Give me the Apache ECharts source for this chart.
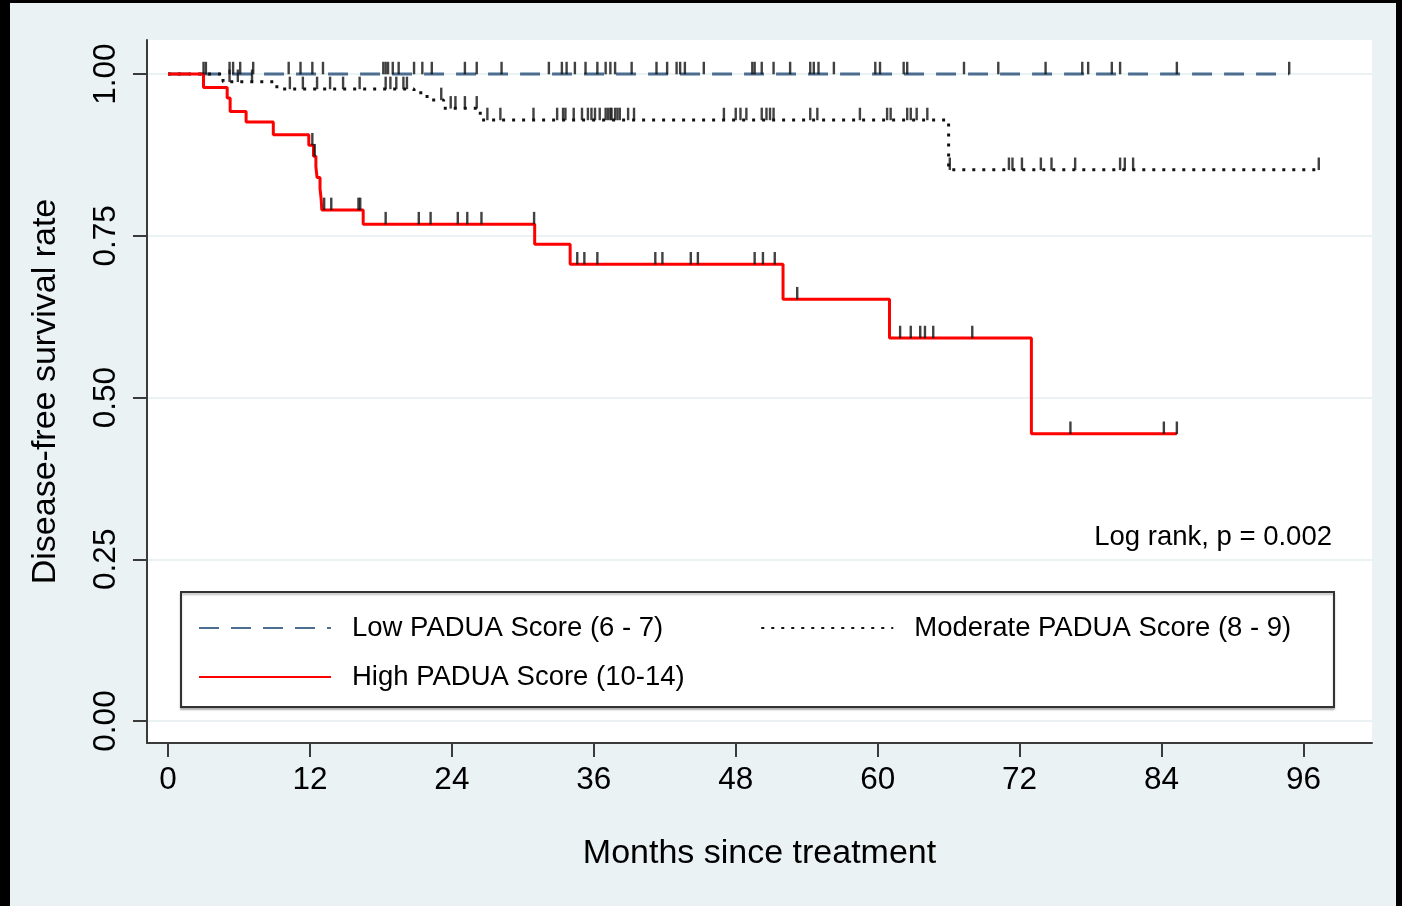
<!DOCTYPE html>
<html><head><meta charset="utf-8">
<script src="https://cdn.jsdelivr.net/npm/echarts@6/dist/echarts.min.js"></script>
<style>html,body{margin:0;padding:0;background:#eaf2f3;} #c{width:1402px;height:906px;}</style>
</head><body><div id="c"></div>
<script>
// ---- data ----
const xTicks = [0, 12, 24, 36, 48, 60, 72, 84, 96];
const yTicks = [0, 0.25, 0.5, 0.75, 1];
const seriesNames = ['Low PADUA Score (6 - 7)', 'Moderate PADUA Score (8 - 9)', 'High PADUA Score (10-14)'];

const lowT = [0, 94.8];
const lowS = [1, 1];
const modT = [0, 4.65, 9.2, 20.8, 21.9, 23.3, 26.4, 66.0, 97.3];
const modS = [1, 0.988, 0.977, 0.971, 0.960, 0.947, 0.929, 0.852, 0.852];
const highT = [0, 3.0, 5.0, 5.25, 6.6, 8.9, 11.9, 12.3, 12.5, 12.6, 12.85, 12.95, 13.0, 16.5, 31.0, 34.0, 52.0, 61.0, 73.0, 85.3];
const highS = [1, 0.979, 0.963, 0.942, 0.926, 0.906, 0.89, 0.873, 0.857, 0.84, 0.823, 0.806, 0.79, 0.768, 0.737, 0.706, 0.652, 0.592, 0.444, 0.444];

const lowCens = [3.0, 3.2, 5.2, 5.5, 6.1, 7.2, 10.2, 11.2, 12.2, 13.1, 18.2, 18.4, 18.6, 19.0, 19.5, 20.8, 21.5, 22.3, 25.1, 26.1, 28.2, 32.2, 33.3, 33.7, 34.4, 35.3, 36.3, 37.0, 37.4, 37.8, 39.2, 41.3, 42.2, 43.0, 43.3, 43.7, 45.3, 49.4, 49.6, 50.2, 51.2, 52.6, 54.3, 54.6, 55.0, 56.3, 59.8, 60.2, 62.2, 62.5, 67.3, 70.2, 74.2, 77.3, 77.8, 79.8, 80.5, 85.3, 94.8];
const modCens = [5.2, 5.9, 7.1, 10.3, 11.4, 12.6, 13.7, 14.8, 16.2, 18.4, 18.8, 19.3, 19.9, 20.2, 23.1, 23.9, 24.3, 25.1, 26.1, 27.0, 28.1, 30.9, 32.9, 33.4, 33.6, 34.3, 35.0, 35.5, 35.8, 36.1, 36.5, 37.0, 37.2, 37.4, 37.5, 37.8, 38.0, 38.2, 38.9, 39.4, 47.0, 48.0, 48.4, 48.9, 50.2, 50.6, 50.9, 51.2, 54.3, 54.9, 58.5, 60.8, 61.1, 62.5, 62.8, 63.3, 64.2, 66.1, 71.1, 71.4, 72.2, 73.8, 74.7, 76.7, 80.5, 80.9, 81.6, 97.3];
const highCens = [12.2, 12.4, 13.2, 13.8, 16.1, 16.25, 18.4, 21.2, 22.2, 24.5, 25.3, 26.5, 30.95, 34.6, 35.2, 36.3, 41.2, 41.8, 44.2, 44.8, 49.6, 50.3, 51.3, 53.2, 61.9, 62.8, 63.6, 64.0, 64.7, 68.0, 76.3, 84.2, 85.3];

// ---- helpers ----
function steps(T, S) { return T.map((t, i) => [t, S[i]]); }
function levelAt(T, S, t) { let v = S[0]; for (let i = 0; i < T.length; i++) { if (T[i] <= t) v = S[i]; } return v; }
function cens(T, S, C) { return C.map(t => [t, levelAt(T, S, t)]); }

const FF = "'Liberation Sans',Arial,Helvetica,sans-serif";
const AX = '#3a3a3a';

function censSeries(data) {
  return { type: 'scatter', data: data, symbol: 'rect', symbolSize: [2.4, 12.5], symbolOffset: [0, -6],
    itemStyle: { color: '#111' }, silent: true, z: 5, legendHoverLink: false };
}

const legendCommon = {
  padding: 0, orient: 'horizontal', width: 1200,
  itemWidth: 132, itemHeight: 14, itemGap: 97, selectedMode: false, z: 10,
  itemStyle: { color: 'rgba(0,0,0,0)', borderWidth: 0, opacity: 0 },
  textStyle: { fontSize: 27.5, fontFamily: FF, color: '#000', padding: [0, 0, 0, 16] }
};

const chart = echarts.init(document.getElementById('c'), null, { renderer: 'canvas' });
chart.setOption({
  backgroundColor: '#eaf2f3',
  animation: false,
  textStyle: { fontFamily: FF },
  title: { text: 'Log rank, p = 0.002', right: 70, top: 523, padding: 0,
    textStyle: { fontSize: 27.5, fontWeight: 'normal', fontFamily: FF, color: '#000' } },
  grid: { left: 147, top: 40, right: 30, bottom: 163, show: true, backgroundColor: '#fff', borderWidth: 0 },
  xAxis: {
    type: 'value', min: -1.78, max: 101.8,
    axisLine: { show: true, onZero: false, lineStyle: { color: AX, width: 2 } },
    axisTick: { show: true, length: 14, customValues: xTicks, lineStyle: { color: AX, width: 2 } },
    axisLabel: { customValues: xTicks, fontSize: 31.5, fontFamily: FF, color: '#000', margin: 21 },
    splitLine: { show: false },
    name: 'Months since treatment', nameLocation: 'middle', nameGap: 94,
    nameTextStyle: { fontSize: 34, fontFamily: FF, color: '#000' }
  },
  yAxis: {
    type: 'value', min: -0.034, max: 1.0526,
    axisLine: { show: true, onZero: false, lineStyle: { color: AX, width: 2 } },
    axisTick: { show: true, length: 14, customValues: yTicks, lineStyle: { color: AX, width: 2 } },
    axisLabel: { customValues: yTicks, rotate: 90, fontSize: 31.5, fontFamily: FF, color: '#000', margin: 25,
      formatter: v => v.toFixed(2) },
    splitLine: { show: true, lineStyle: { color: '#eaf2f3', width: 2 } },
    name: 'Disease-free survival rate', nameLocation: 'middle', nameGap: 84,
    nameTextStyle: { fontSize: 34, fontFamily: FF, color: '#000' }
  },
  legend: [
    Object.assign({}, legendCommon, { data: [seriesNames[0], seriesNames[1]], left: 198, top: 614 }),
    Object.assign({}, legendCommon, { data: [seriesNames[2]], left: 198, top: 663 })
  ],
  graphic: [
    { type: 'rect', z: 3, shape: { x: 181, y: 592, width: 1153, height: 115 },
      style: { fill: '#fff', stroke: '#333', lineWidth: 2, shadowColor: 'rgba(0,0,0,0.25)', shadowOffsetY: 2, shadowBlur: 2 } },
    { type: 'rect', z: 100, shape: { x: 0, y: 0, width: 10, height: 906 }, style: { fill: '#000' } },
    { type: 'rect', z: 100, shape: { x: 0, y: 0, width: 1402, height: 3 }, style: { fill: '#000' } },
    { type: 'rect', z: 100, shape: { x: 1396, y: 0, width: 6, height: 906 }, style: { fill: '#000' } }
  ],
  series: [
    { name: seriesNames[0], type: 'line', step: 'end', data: steps(lowT, lowS), symbol: 'none', color: '#4b6d90',
      lineStyle: { color: '#4b6d90', width: 3, type: [20, 12] }, z: 2 },
    { name: seriesNames[1], type: 'line', step: 'end', data: steps(modT, modS), symbol: 'none', color: '#111',
      lineStyle: { color: '#111', width: 3, type: [3, 7] }, z: 2 },
    { name: seriesNames[2], type: 'line', step: 'end', data: steps(highT, highS), symbol: 'none', color: '#f00',
      lineStyle: { color: '#f00', width: 3 }, z: 3 },
    censSeries(cens(lowT, lowS, lowCens)),
    censSeries(cens(modT, modS, modCens)),
    censSeries(cens(highT, highS, highCens))
  ]
});
</script></body></html>
